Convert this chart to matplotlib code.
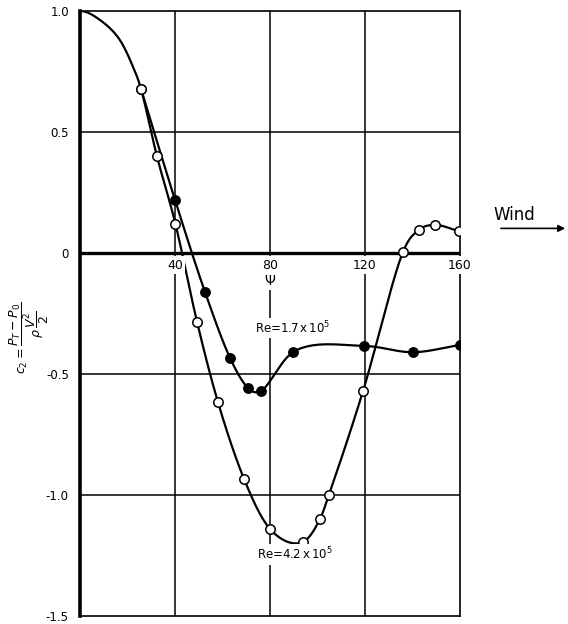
import numpy as np
import matplotlib.pyplot as plt
from matplotlib.patches import FancyArrowPatch

# common start of both curves (no measured points drawn here)
psi_lead = [0, 8.4, 16.8, 22.3]
c_lead = [1.0, 0.963, 0.88, 0.77]

# Re = 4.2 x 10^5 (open circles)
psi_hi = [25.7, 32.4, 40.2, 49.3, 58.1, 69.1, 80.0, 93.9, 101.0, 104.8, 119.2, 136.0, 142.7, 149.5, 159.6]
c_hi = [0.678, 0.40, 0.12, -0.285, -0.616, -0.934, -1.14, -1.194, -1.10, -1.0, -0.57, 0.004, 0.095, 0.116, 0.09]

# Re = 1.7 x 10^5 (filled circles)
psi_lo = [25.7, 40.0, 52.6, 63.2, 70.8, 76.2, 89.7, 119.6, 140.2, 160.0]
c_lo = [0.678, 0.22, -0.16, -0.434, -0.558, -0.57, -0.41, -0.384, -0.41, -0.38]

x_ticks = [40, 80, 120, 160]
y_ticks = [1.0, 0.5, 0, -0.5, -1.0, -1.5]
y_tick_labels = ['1.0', '0.5', '0', '-0.5', '-1.0', '-1.5']


def smooth(x, y, n=30, flat_start=False):
    # centripetal Catmull-Rom through the given points
    p = np.column_stack([x, y]).astype(float)
    if flat_start:
        # mirror the second point so the curve leaves the first one horizontally
        first = np.array([2 * p[0, 0] - p[1, 0], p[1, 1]])
    else:
        first = 2 * p[0] - p[1]
    p = np.vstack([first, p, 2 * p[-1] - p[-2]])
    out = []
    for i in range(1, len(p) - 2):
        p0, p1, p2, p3 = p[i - 1], p[i], p[i + 1], p[i + 2]
        t0 = 0.0
        t1 = t0 + np.linalg.norm(p1 - p0) ** 0.5
        t2 = t1 + np.linalg.norm(p2 - p1) ** 0.5
        t3 = t2 + np.linalg.norm(p3 - p2) ** 0.5
        t = np.linspace(t1, t2, n)[:, None]
        a1 = (t1 - t) / (t1 - t0) * p0 + (t - t0) / (t1 - t0) * p1
        a2 = (t2 - t) / (t2 - t1) * p1 + (t - t1) / (t2 - t1) * p2
        a3 = (t3 - t) / (t3 - t2) * p2 + (t - t2) / (t3 - t2) * p3
        b1 = (t2 - t) / (t2 - t0) * a1 + (t - t0) / (t2 - t0) * a2
        b2 = (t3 - t) / (t3 - t1) * a2 + (t - t1) / (t3 - t1) * a3
        c = (t2 - t) / (t2 - t1) * b1 + (t - t1) / (t2 - t1) * b2
        out.append(c)
    out = np.vstack(out)
    return out[:, 0], out[:, 1]


fig = plt.figure(figsize=(5.68, 6.24), dpi=100)
ax = fig.add_axes([0.1408, 0.0128, 0.669, 0.9696])
ax.set_xlim(0, 160)
ax.set_ylim(-1.5, 1.0)

# grid
for xv in x_ticks[:-1]:
    ax.axvline(xv, color='black', lw=1.1, zorder=1)
for yv in [0.5, -0.5, -1.0]:
    ax.axhline(yv, color='black', lw=1.1, zorder=1)
ax.axhline(0, color='black', lw=2.4, zorder=1)

for side in ['top', 'right', 'bottom']:
    ax.spines[side].set_linewidth(1.2)
ax.spines['left'].set_linewidth(2.6)

lw = 1.6
xs, ys = smooth(psi_lead + psi_hi, c_lead + c_hi, flat_start=True)
ax.plot(xs, ys, color='black', lw=lw, zorder=2)
xs, ys = smooth(psi_lo, c_lo)
ax.plot(xs, ys, color='black', lw=lw, zorder=2)

ax.plot(psi_lo, c_lo, 'o', ms=6.8, mfc='black', mec='black', mew=1, zorder=3)
ax.plot(psi_hi, c_hi, 'o', ms=6.8, mfc='white', mec='black', mew=1.1, zorder=4)

ax.set_xticks([])
ax.set_yticks(y_ticks)
ax.set_yticklabels(y_tick_labels, fontsize=8.5)
ax.tick_params(axis='y', length=0, pad=8)

box = dict(facecolor='white', edgecolor='none', pad=1.5)
for xv in x_ticks:
    ax.text(xv, -0.05, str(xv), ha='center', va='center', fontsize=9, bbox=box, zorder=5)
ax.text(80, -0.115, r'$\Psi$', ha='center', va='center', fontsize=10, bbox=box, zorder=5)

ax.text(73.5, -0.31, r'Re=1.7$\,$x$\,$10$^5$', fontsize=8.5, va='center', bbox=box, zorder=5)
ax.text(74.5, -1.245, r'Re=4.2$\,$x$\,$10$^5$', fontsize=8.5, va='center', bbox=box, zorder=5)

fig.text(0.052, 0.458, r'$c_2=\dfrac{P_T - P_0}{\rho\,\dfrac{V^2}{2}}$', rotation=90,
         ha='center', va='center', fontsize=9)

fig.text(0.868, 0.655, 'Wind', fontsize=12, ha='left', va='center')
fig.add_artist(FancyArrowPatch((0.877, 0.634), (1.0, 0.634), transform=fig.transFigure,
                               arrowstyle='-|>', mutation_scale=10, lw=1.2, color='black'))

fig.savefig('out.png', dpi=100)
